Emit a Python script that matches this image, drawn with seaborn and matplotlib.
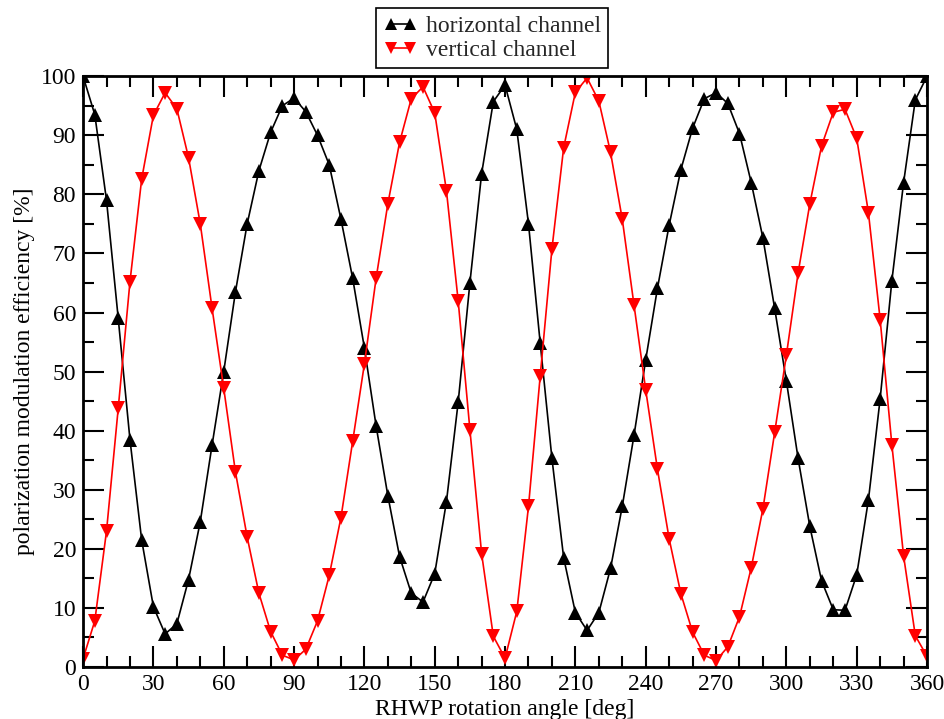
import numpy as np
import pandas as pd
import matplotlib
matplotlib.use("Agg")
import matplotlib.pyplot as plt
from matplotlib.ticker import MultipleLocator
import seaborn as sns

angles = list(range(0, 365, 5))

horizontal = [100, 93.5, 79, 59, 38.5, 21.5, 10.2, 5.6, 7.3, 14.8,
              24.6, 37.5, 50, 63.5, 75, 84, 90.5, 95, 96.3, 94,
              90, 85, 75.8, 65.8, 54, 40.8, 29, 18.7, 12.5, 11,
              15.8, 28, 44.8, 65, 83.5, 95.7, 98.5, 91, 75, 54.8,
              35.3, 18.5, 9.2, 6.2, 9.2, 16.7, 27.2, 39.2, 52, 64.1,
              74.8, 84.2, 91.2, 96.2, 97.2, 95.4, 90.3, 82, 72.6, 60.7,
              48.4, 35.3, 23.8, 14.6, 9.7, 9.6, 15.6, 28.3, 45.4, 65.4,
              82, 96, 100]

vertical = [1.4, 7.8, 23, 43.8, 65.2, 82.6, 93.4, 97.2, 94.5, 86.2,
            75, 60.8, 47.2, 33, 22, 12.5, 6, 2, 1.2, 3,
            7.8, 15.5, 25.3, 38.2, 51.3, 65.8, 78.4, 88.8, 96.2, 98.2,
            93.8, 80.6, 62, 40.2, 19.2, 5.2, 1.5, 9.4, 27.2, 49.3,
            70.8, 87.9, 97.3, 99.7, 95.8, 87.1, 75.8, 61.3, 46.9, 33.5,
            21.7, 12.4, 5.9, 2, 1.1, 3.4, 8.5, 16.8, 26.8, 39.7,
            52.8, 66.7, 78.4, 88.2, 93.9, 94.4, 89.5, 76.9, 58.8, 37.6,
            18.8, 5.3, 1.8]

series_names = ["horizontal channel", "vertical channel"]
x_ticks = [0, 30, 60, 90, 120, 150, 180, 210, 240, 270, 300, 330, 360]
y_ticks = [0, 10, 20, 30, 40, 50, 60, 70, 80, 90, 100]

sns.set_theme(style="white")
plt.rcParams['font.family'] = ['Liberation Serif', 'DejaVu Serif']
plt.rcParams['mathtext.fontset'] = 'stix'

fig = plt.figure(figsize=(9.45, 7.19), dpi=100)
ax = fig.add_axes([0.0879, 0.0723, 0.8931, 0.8217])

df = pd.DataFrame({
    "angle": angles * 2,
    "value": horizontal + vertical,
    "series": [series_names[0]] * len(angles) + [series_names[1]] * len(angles),
})

sns.lineplot(data=df, x="angle", y="value", hue="series", style="series",
             palette={series_names[0]: "black", series_names[1]: "#ff0000"},
             markers={series_names[0]: "^", series_names[1]: "v"},
             dashes=False, markersize=10, linewidth=1.2,
             markeredgewidth=0, ax=ax, legend=True, sort=False)

ax.set_xlim(0, 360)
ax.set_ylim(0, 100)
ax.set_xticks(x_ticks)
ax.set_yticks(y_ticks)
ax.xaxis.set_minor_locator(MultipleLocator(10))
ax.yaxis.set_minor_locator(MultipleLocator(5))
ax.tick_params(which='major', direction='in', length=15, width=1.5,
               top=True, right=True, labelsize=17, pad=5, color='black',
               labelcolor='black')
ax.tick_params(which='minor', direction='in', length=8, width=1.5,
               top=True, right=True, color='black')
ax.tick_params(axis='x', which='both', bottom=True)
ax.tick_params(axis='y', which='both', left=True)
for sp in ax.spines.values():
    sp.set_color('black')
    sp.set_linewidth(2)
ax.grid(False)

ax.set_xlabel("RHWP rotation angle [deg]", fontsize=17, labelpad=3, color='black')
ax.set_ylabel("polarization modulation efficiency [%]", fontsize=17, labelpad=4, color='black')

handles, labels = ax.get_legend_handles_labels()
ax.legend_.remove()
leg = fig.legend(handles, labels, loc='center', bbox_to_anchor=(0.521, 0.947),
                 numpoints=2, fontsize=17, frameon=True, fancybox=False,
                 edgecolor='black', framealpha=1, handlelength=1.4,
                 handletextpad=0.4, borderpad=0.3, labelspacing=0.1,
                 borderaxespad=0)
leg.get_frame().set_linewidth(1.2)
for h in leg.legend_handles:
    h.set_markersize(9)

fig.savefig("out.png", dpi=100)
